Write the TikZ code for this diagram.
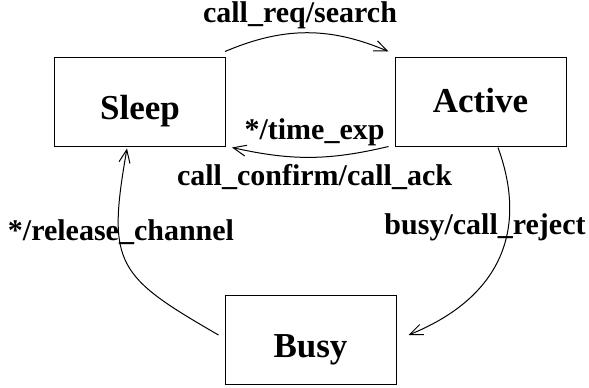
\documentclass[tikz,border=0pt]{standalone}
\usepackage{fontspec}
\setmainfont{Liberation Serif}
\usetikzlibrary{arrows.meta}
\tikzset{
  state/.style={draw, line width=1pt, minimum width=171pt, minimum height=89pt,
    inner sep=0pt, font=\bfseries\fontsize{35}{35}\selectfont,
    text depth=0pt, text height=35pt},
  trans/.style={font=\bfseries\fontsize{30}{30}\selectfont, anchor=base, inner sep=0pt},
  move/.style={line width=1pt, -{Straight Barb[length=13pt,width=11pt]}},
}
\begin{document}
\begin{tikzpicture}[x=1pt,y=1pt]
  \useasboundingbox (0,0) rectangle (589,388);
  % states
  \node[state] (sleep) at (140,285.5) {Sleep};
  \node[state, text height=21pt] (active) at (480.5,285.5) {Active};
  \node[state] (busy) at (310.5,47.5) {Busy};
  % transitions
  \draw[move] ([shift={(-1,6)}]sleep.north east) to[bend left=23] ([shift={(-6,6)}]active.north west);
  \draw[move] ([shift={(-6,1)}]active.south west) to[bend left=13] ([shift={(6,0)}]sleep.south east);
  \draw[move] ([xshift=17.5pt]active.south) to[out=-70,in=22,looseness=1.15] ([shift={(12,5.5)}]busy.east);
  \draw[move] ([shift={(-6,5.5)}]busy.west) to[out=150,in=-100,looseness=1.45] ([shift={(-13,-1)}]sleep.south);
  % labels
  \node[trans] (reqlbl) at (300,365) {call\_req/search};
  \node[trans] (timelbl) at (314.5,248) {*/time\_exp};
  \node[trans] (confirmlbl) at (314.5,202) {call\_confirm/call\_ack};
  \node[trans] (releaselbl) at (121,147) {*/release\_channel};
  \node[trans] (rejectlbl) at (485,153) {busy/call\_reject};
\end{tikzpicture}
\end{document}
